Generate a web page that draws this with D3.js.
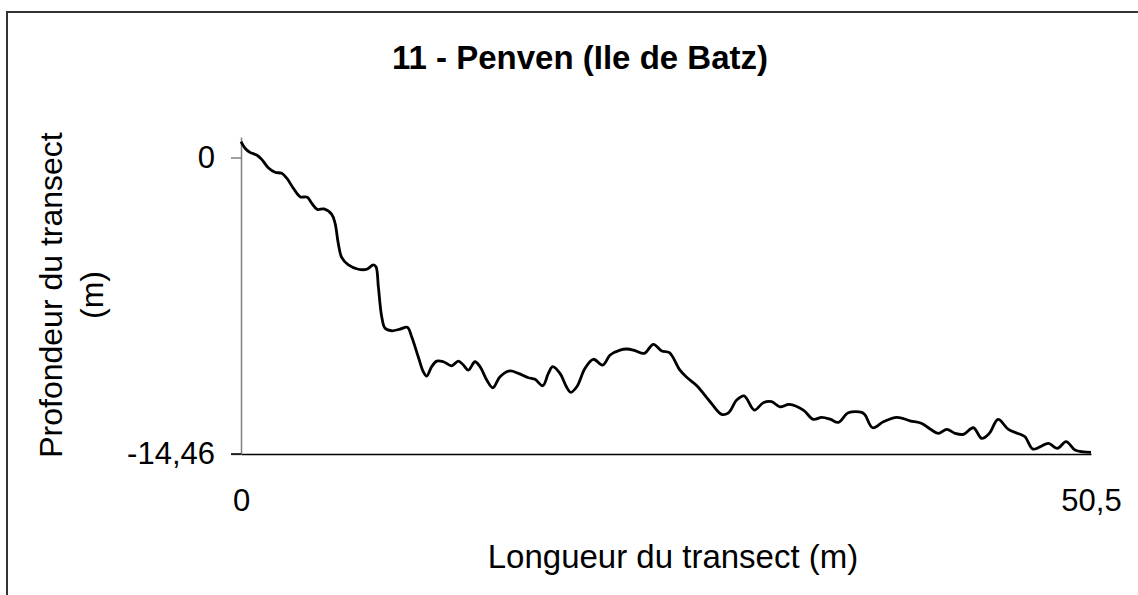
<!DOCTYPE html>
<html>
<head>
<meta charset="utf-8">
<script src="https://cdn.jsdelivr.net/npm/d3@7"></script>
<style>
  body { margin: 0; background: #fff; }
  svg { display: block; font-family: "Liberation Sans", Arial, sans-serif; }
</style>
</head>
<body>
<div id="chart"></div>
<script>
// transect profile
const distance = [0, 0.24, 0.53, 0.93, 1.23, 1.62, 2.02, 2.42, 2.72, 3.11, 3.51, 3.94, 4.20, 4.53, 4.93,
  5.39, 5.59, 5.78, 5.98, 6.38, 6.97, 7.47, 7.86, 8.02, 8.16, 8.36, 8.56, 8.95, 9.45, 9.88,
  10.14, 10.53, 10.83, 11.03, 11.33, 11.63, 12.02, 12.52, 12.91, 13.21, 13.51, 13.90, 14.20, 14.60, 14.96,
  15.39, 15.98, 16.48, 17.07, 17.47, 17.93, 18.26, 18.52, 18.95, 19.35, 19.59, 19.95, 20.44, 20.93, 21.49,
  21.93, 22.52, 22.92, 23.41, 23.96, 24.50, 25.00, 25.45, 26.08, 26.48, 27.08, 27.87, 28.56, 28.96, 29.45,
  29.89, 30.50, 31.03, 31.53, 32.02, 32.58, 33.41, 34.00, 34.50, 35.00, 35.49, 36.08, 36.88, 37.08, 37.53,
  38.16, 38.96, 39.75, 40.45, 40.94, 41.43, 41.93, 42.42, 42.92, 43.51, 44.01, 44.46, 44.98, 45.59, 46.29,
  46.58, 47.04, 47.47, 47.97, 48.50, 49.02, 49.55, 50.05, 50.5];
const depth = [0.77, 0.45, 0.25, 0.12, -0.09, -0.50, -0.72, -0.77, -1.01, -1.50, -1.91, -1.94, -2.23, -2.53, -2.51,
  -2.77, -3.21, -4.19, -4.87, -5.24, -5.45, -5.45, -5.24, -5.33, -6.30, -7.77, -8.33, -8.45, -8.37, -8.28,
  -8.74, -9.72, -10.45, -10.66, -10.20, -9.93, -9.96, -10.16, -9.93, -10.12, -10.37, -9.96, -10.20, -10.85, -11.23,
  -10.69, -10.41, -10.53, -10.74, -10.82, -11.13, -10.53, -10.20, -10.53, -11.21, -11.45, -11.18, -10.28, -9.84, -10.12,
  -9.63, -9.39, -9.34, -9.42, -9.55, -9.11, -9.44, -9.52, -10.37, -10.72, -11.13, -11.91, -12.53, -12.45, -11.83,
  -11.63, -12.32, -11.96, -11.91, -12.16, -12.04, -12.32, -12.77, -12.67, -12.76, -12.92, -12.45, -12.43, -12.56, -13.18,
  -12.89, -12.67, -12.84, -12.97, -13.24, -13.45, -13.26, -13.45, -13.50, -13.18, -13.70, -13.45, -12.77, -13.26, -13.50,
  -13.62, -14.22, -14.11, -13.94, -14.19, -13.86, -14.27, -14.36, -14.38];

const xTicks = [0, 50.5];
const yTicks = [0, -14.46];

const W = 1138, H = 595;
const svg = d3.select('#chart').append('svg')
  .attr('width', W).attr('height', H);

// chart frame (runs off the right and bottom edges)
svg.append('rect')
  .attr('x', 7).attr('y', 12)
  .attr('width', 2000).attr('height', 2000)
  .attr('fill', 'none')
  .attr('stroke', '#333').attr('stroke-width', 2);

const x = d3.scaleLinear().domain([0, 50.5]).range([241, 1091]);
const y = d3.scaleLinear().domain([-14.46, 1]).range([454, 137]);

const fmt = d => String(d).replace('.', ',');

// y axis (grey)
const yAx = svg.append('g')
  .attr('transform', 'translate(241,0)')
  .call(d3.axisLeft(y).tickValues(yTicks).tickFormat(fmt)
    .tickSizeInner(10).tickSizeOuter(0).tickPadding(16));
yAx.select('.domain').attr('stroke', '#808080').attr('stroke-width', 1.5);
yAx.selectAll('.tick line').attr('stroke', '#808080').attr('stroke-width', 1.5);
yAx.selectAll('.tick text')
  .attr('font-size', 31).attr('fill', '#000')
  .attr('font-family', '"Liberation Sans", Arial, sans-serif');

// x axis at the bottom of the range
const xAx = svg.append('g')
  .attr('transform', `translate(0,${y(-14.46)})`)
  .call(d3.axisBottom(x).tickValues(xTicks).tickFormat(fmt)
    .tickSizeInner(0).tickSizeOuter(0).tickPadding(35));
xAx.select('.domain').attr('stroke', '#000').attr('stroke-width', 1.5);
xAx.selectAll('.tick text')
  .attr('font-size', 31).attr('fill', '#000')
  .attr('font-family', '"Liberation Sans", Arial, sans-serif');

// small black stub left of the x axis
svg.append('line')
  .attr('x1', 231).attr('x2', 241)
  .attr('y1', y(-14.46)).attr('y2', y(-14.46))
  .attr('stroke', '#000').attr('stroke-width', 1.5);

const pts = distance.map((d, i) => [d, depth[i]]);
const line = d3.line()
  .x(d => x(d[0]))
  .y(d => y(d[1]))
  .curve(d3.curveCatmullRom.alpha(0.5));

svg.append('path')
  .datum(pts)
  .attr('d', line)
  .attr('fill', 'none')
  .attr('stroke', '#000')
  .attr('stroke-width', 2.8)
  .attr('stroke-linejoin', 'round');

// titles
svg.append('text')
  .attr('x', 580).attr('y', 69)
  .attr('text-anchor', 'middle')
  .attr('font-size', 33).attr('font-weight', 'bold')
  .text('11 - Penven (Ile de Batz)');

svg.append('text')
  .attr('x', 673).attr('y', 568)
  .attr('text-anchor', 'middle')
  .attr('font-size', 33)
  .text('Longueur du transect (m)');

const yt = svg.append('text')
  .attr('transform', 'translate(0,295) rotate(-90)')
  .attr('text-anchor', 'middle')
  .attr('font-size', 32);
yt.append('tspan').attr('x', 0).attr('y', 62).text('Profondeur du transect');
yt.append('tspan').attr('x', 0).attr('y', 103).text('(m)');
</script>
</body>
</html>
